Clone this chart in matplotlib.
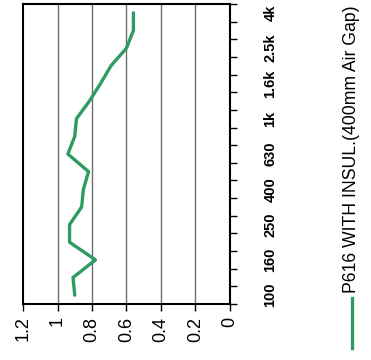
import numpy as np
import matplotlib.pyplot as plt

plt.rcParams['font.family'] = ['Liberation Sans', 'DejaVu Sans']

# frequency bands (bottom -> top), only every other one is labelled
bands = ['100', '125', '160', '200', '250', '315', '400', '500', '630',
         '800', '1k', '1.25k', '1.6k', '2k', '2.5k', '3.15k', '4k']
alpha = [0.90, 0.91, 0.78, 0.93, 0.93, 0.86, 0.85, 0.82, 0.94,
         0.90, 0.89, 0.815, 0.75, 0.69, 0.60, 0.56, 0.56]
value_ticks = [0, 0.2, 0.4, 0.6, 0.8, 1.0, 1.2]
value_labels = ['0', '0.2', '0.4', '0.6', '0.8', '1', '1.2']
legend_text = 'P616 WITH INSUL.(400mm Air Gap)'
green = '#2e9b62'

fig = plt.figure(figsize=(3.71, 3.60), dpi=100)
ax = fig.add_axes([23/371, 1-304/360, 207/371, 300/360])

pos = np.arange(1, len(bands)+1)
ax.plot(alpha, pos, color=green, lw=2.4, solid_capstyle='round')

ax.set_xlim(1.2, 0)
ax.set_ylim(0.5, len(bands)+0.5)

# value axis (bottom)
ax.set_xticks(value_ticks)
ax.set_xticklabels(value_labels, rotation=90, fontsize=13)
ax.tick_params(axis='x', direction='out', length=5, width=1, pad=4)
for v in value_ticks[1:-1]:
    ax.axvline(v, color='#6e6e6e', lw=1, zorder=0)

# category axis (right)
ax.yaxis.tick_right()
ax.set_yticks(np.arange(0.5, len(bands)+1, 1.0))
ax.set_yticklabels([])
ax.set_yticks(pos[::2], minor=True)
ax.set_yticklabels(bands[::2], minor=True, rotation=90, fontsize=10.5,
                   va='center', fontweight='bold')
ax.tick_params(axis='y', which='major', direction='out', length=5, width=1)
ax.tick_params(axis='y', which='minor', length=0, pad=24)

for s in ax.spines.values():
    s.set_linewidth(1.5)

# legend drawn rotated
fig.add_artist(plt.Line2D([352/371, 352/371], [1-348/360, 1-298/360],
                          color=green, lw=2.4, transform=fig.transFigure))
fig.text(352/371, 1-293/360, legend_text, rotation=90, fontsize=12.7,
         ha='center', va='bottom')

fig.savefig('out.png', dpi=100)
